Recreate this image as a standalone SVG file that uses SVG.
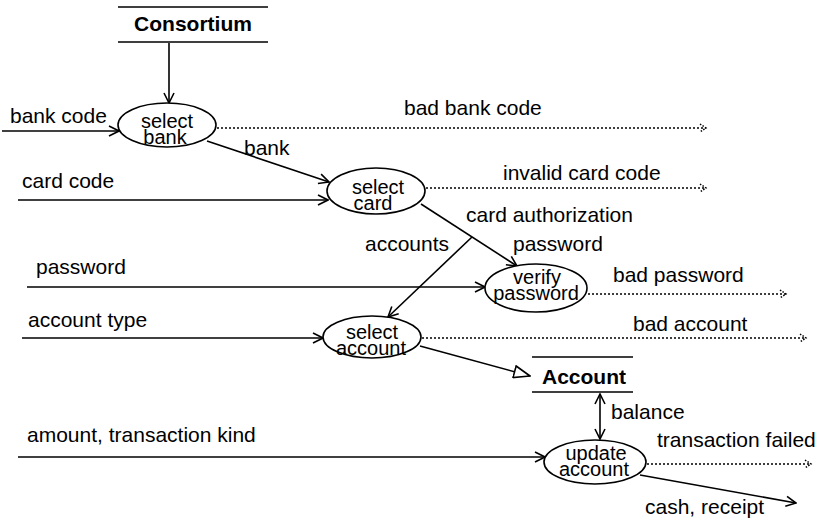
<svg xmlns="http://www.w3.org/2000/svg" width="818" height="521" viewBox="0 0 818 521">
<style>
text{font-family:"Liberation Sans",Arial,sans-serif;font-size:21px;fill:#000}
.b{font-weight:bold}
.c{text-anchor:middle}
.n{font-size:20px}
.e{fill:#fff;stroke:#000;stroke-width:1.6}
.s{stroke:#000;stroke-width:1.6;fill:none}
.l{stroke:#000;stroke-width:1.6;fill:none;marker-end:url(#a)}
.d{stroke:#000;stroke-width:1.5;fill:none;stroke-dasharray:2 2;marker-end:url(#da)}
</style>
<defs>
<marker id="a" viewBox="0 0 12 12" refX="11" refY="6" markerWidth="12" markerHeight="12" orient="auto-start-reverse" markerUnits="userSpaceOnUse"><path d="M1,1 L11,6 L1,11" fill="none" stroke="#000" stroke-width="1.6"/></marker>
<marker id="da" viewBox="0 0 10 10" refX="8" refY="5" markerWidth="10" markerHeight="10" orient="auto" markerUnits="userSpaceOnUse"><path d="M2,1 L8,5 L2,9" fill="none" stroke="#000" stroke-width="1.5" stroke-dasharray="1.5 1.5"/></marker>
<marker id="t" viewBox="0 0 18 14" refX="17" refY="7" markerWidth="18" markerHeight="14" orient="auto" markerUnits="userSpaceOnUse"><path d="M1,1 L17,7 L1,13 Z" fill="#fff" stroke="#000" stroke-width="1.6"/></marker>
</defs>
<rect width="818" height="521" fill="#fff"/>
<g id="connectors">
<path class="l" d="M169,43 L169,103"/>
<path class="l" d="M2,131 L119,131"/>
<path class="d" d="M217,128 L706,128"/>
<path class="l" d="M207,141 L329,182"/>
<path class="l" d="M18,200 L328,200"/>
<path class="d" d="M426,188 L706,188"/>
<path class="l" d="M421,204 L517,266"/>
<path class="l" d="M472,237 L388,317"/>
<path class="l" d="M27,287 L485,287"/>
<path class="d" d="M588,294 L786,294"/>
<path class="l" d="M22,338 L323,338"/>
<path class="d" d="M422,338 L806,338"/>
<path class="s" d="M420,346 L530,376" marker-end="url(#t)"/>
<path class="s" d="M600,394 L600,439" marker-start="url(#a)" marker-end="url(#a)"/>
<path class="l" d="M18,457 L545,457"/>
<path class="d" d="M647,464 L811,464"/>
<path class="l" d="M640,475 L796,503"/>
</g>
<g id="labels">
<text x="10" y="123">bank code</text>
<text x="404" y="115">bad bank code</text>
<text x="244" y="155">bank</text>
<text x="22" y="188">card code</text>
<text x="503" y="180">invalid card code</text>
<text x="466" y="222">card authorization</text>
<text x="513" y="251">password</text>
<text x="365" y="251">accounts</text>
<text x="36" y="274">password</text>
<text x="613" y="282">bad password</text>
<text x="28" y="327">account type</text>
<text x="633" y="331">bad account</text>
<text x="611" y="419">balance</text>
<text x="27" y="442">amount, transaction kind</text>
<text x="657" y="447">transaction failed</text>
<text x="645" y="514">cash, receipt</text>
</g>
<g id="consortium">
<path class="s" d="M118,7 L268,7 M118,42 L268,42"/>
<text class="b c" x="193" y="31">Consortium</text>
</g>
<g id="account">
<path class="s" d="M532,357 L633,357 M532,392 L633,392"/>
<text class="b c" x="584" y="384">Account</text>
</g>
<g id="select-bank">
<ellipse class="e" cx="167" cy="125" rx="49" ry="22"/>
<text class="c n" x="167" y="128">select</text>
<text class="c n" x="165" y="144">bank</text>
</g>
<g id="select-card">
<ellipse class="e" cx="376" cy="191" rx="49" ry="23"/>
<text class="c n" x="378" y="194">select</text>
<text class="c n" x="373" y="210">card</text>
</g>
<g id="verify-password">
<ellipse class="e" cx="536" cy="288" rx="51" ry="24"/>
<text class="c n" x="537" y="284">verify</text>
<text class="c n" x="536" y="300">password</text>
</g>
<g id="select-account">
<ellipse class="e" cx="372" cy="337" rx="49" ry="21"/>
<text class="c n" x="372" y="339">select</text>
<text class="c n" x="371" y="355">account</text>
</g>
<g id="update-account">
<ellipse class="e" cx="595" cy="462" rx="51" ry="22"/>
<text class="c n" x="596" y="460">update</text>
<text class="c n" x="594" y="476">account</text>
</g>
</svg>
